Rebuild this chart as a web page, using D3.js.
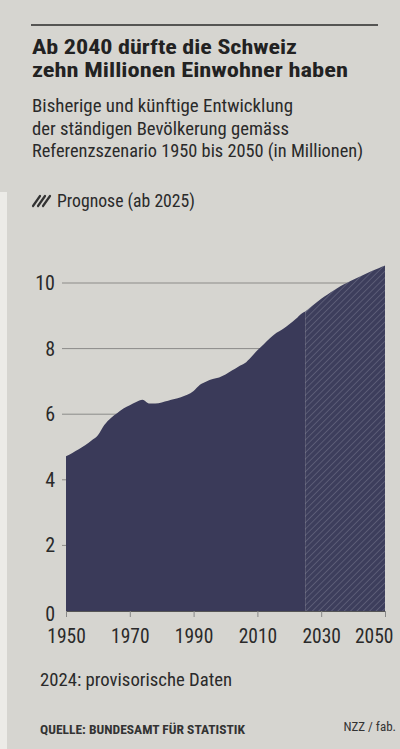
<!DOCTYPE html>
<html>
<head>
<meta charset="utf-8">
<script src="https://cdn.jsdelivr.net/npm/d3@7"></script>
<style>
  html, body { margin: 0; padding: 0; background: #d6d5d0; }
  svg { display: block; }
  text { font-family: "Liberation Sans Narrow", "Roboto Condensed", "Arial Narrow", "Liberation Sans", sans-serif; }
</style>
</head>
<body>
<svg id="chart" width="400" height="749"></svg>
<script>
// ---- Data (population in millions) ----
const historyYears = [1950,1952,1954,1956,1958,1960,1962,1964,1966,1968,1970,1972,1974,1976,1978,1980,1982,1984,1986,1988,1990,1992,1994,1996,1998,2000,2002,2004,2006,2008,2010,2012,2014,2016,2018,2020,2022,2024,2025];
const historyValues = [4.72,4.82,4.93,5.05,5.20,5.36,5.67,5.88,6.03,6.17,6.27,6.37,6.44,6.33,6.33,6.36,6.41,6.46,6.52,6.59,6.71,6.90,7.00,7.07,7.12,7.21,7.33,7.45,7.55,7.74,7.95,8.13,8.32,8.48,8.60,8.74,8.90,9.08,9.13];
const forecastYears = [2025,2026,2028,2030,2032,2034,2036,2038,2040,2042,2044,2046,2048,2050];
const forecastValues = [9.13,9.21,9.37,9.52,9.65,9.78,9.90,10.0,10.10,10.19,10.28,10.37,10.45,10.53];
const yTicks = [0,2,4,6,8,10];
const xTicks = [1950,1970,1990,2010,2030,2050];

const svg = d3.select("#chart");
const W = 400, H = 749;

// paper strip on the left
svg.append("rect").attr("x",0).attr("y",192).attr("width",7).attr("height",H-192).attr("fill","#ecebe7");

// top rule
svg.append("line").attr("x1",31).attr("x2",378).attr("y1",25).attr("y2",25)
  .attr("stroke","#2a2a2a").attr("stroke-width",1.6);

// title
const title = [["Ab 2040 dürfte die Schweiz",265],["zehn Millionen Einwohner haben",316]];
svg.selectAll("text.title").data(title).enter().append("text")
  .attr("class","title").attr("x",32).attr("y",(d,i)=>54+i*23)
  .attr("font-size",21).attr("font-weight","bold").attr("fill","#222")
  .attr("textLength",d=>d[1]).attr("lengthAdjust","spacingAndGlyphs")
  .text(d=>d[0]);

const sub = [["Bisherige und künftige Entwicklung",261],["der ständigen Bevölkerung gemäss",257],["Referenzszenario 1950 bis 2050 (in Millionen)",331]];
svg.selectAll("text.sub").data(sub).enter().append("text")
  .attr("class","sub").attr("x",32).attr("y",(d,i)=>112+i*22.5)
  .attr("font-size",17.5).attr("fill","#2a2a2a")
  .attr("textLength",d=>d[1]).attr("lengthAdjust","spacingAndGlyphs")
  .text(d=>d[0]);

// legend
const defs = svg.append("defs");
const pat = defs.append("pattern").attr("id","hatch").attr("patternUnits","userSpaceOnUse")
  .attr("width",4.5).attr("height",4.5).attr("patternTransform","rotate(45)");
pat.append("rect").attr("width",4.5).attr("height",4.5).attr("fill","#3d3e5c");
pat.append("line").attr("x1",0).attr("y1",0).attr("x2",0).attr("y2",4.5)
  .attr("stroke","#62637c").attr("stroke-width",1.5);

const lg = svg.append("g");
[0,5,10].forEach(o=>{
  lg.append("line").attr("x1",33+o).attr("y1",206).attr("x2",40+o).attr("y2",196)
    .attr("stroke","#333").attr("stroke-width",2.2).attr("stroke-linecap","round");
});
svg.append("text").attr("x",57).attr("y",207).attr("font-size",17.5).attr("fill","#2a2a2a")
  .attr("textLength",138).attr("lengthAdjust","spacingAndGlyphs")
  .text("Prognose (ab 2025)");

// scales
const x = d3.scaleLinear().domain([1950,2050]).range([66,385]);
const y = d3.scaleLinear().domain([0,10]).range([611,283]);

// gridlines
svg.append("g").selectAll("line").data(yTicks.filter(d=>d>0)).enter().append("line")
  .attr("x1",62).attr("x2",385).attr("y1",d=>y(d)).attr("y2",d=>y(d))
  .attr("stroke","#8c8b88").attr("stroke-width",1);

// y labels
svg.append("g").selectAll("text").data(yTicks).enter().append("text")
  .attr("x",55).attr("y",d=>d===0?y(d)+10:y(d)+7).attr("text-anchor","end")
  .attr("font-size",20).attr("fill","#2a2a2a").text(d=>d);

// areas
const area = d3.area().x(d=>x(d[0])).y0(y(0)).y1(d=>y(d[1])).curve(d3.curveMonotoneX);
svg.append("path").datum(historyYears.map((d,i)=>[d,historyValues[i]]))
  .attr("d",area).attr("fill","#3a3a59");
svg.append("path").datum(forecastYears.map((d,i)=>[d,forecastValues[i]]))
  .attr("d",area).attr("fill","url(#hatch)");

// x axis
const xAxis = d3.axisBottom(x).tickValues(xTicks).tickFormat(d3.format("d")).tickSize(6).tickPadding(12);
const gx = svg.append("g").attr("transform",`translate(0,${y(0)})`).call(xAxis);
gx.select(".domain").attr("stroke","#555").attr("stroke-width",1);
gx.selectAll(".tick line").attr("stroke","#888");
gx.selectAll("text").attr("font-size",19.5).attr("fill","#2a2a2a")
  .attr("font-family",'"Liberation Sans Narrow", "Roboto Condensed", sans-serif')
  .filter(d=>d===2050).attr("text-anchor","end").attr("dx",8);

// footnotes
svg.append("text").attr("x",40).attr("y",686).attr("font-size",18).attr("fill","#2a2a2a")
  .attr("textLength",192).attr("lengthAdjust","spacingAndGlyphs")
  .text("2024: provisorische Daten");
svg.append("text").attr("x",40).attr("y",734).attr("font-size",13.5).attr("font-weight","bold")
  .attr("fill","#333").attr("textLength",205).attr("lengthAdjust","spacingAndGlyphs")
  .text("QUELLE: BUNDESAMT FÜR STATISTIK");
svg.append("text").attr("x",396).attr("y",731).attr("text-anchor","end").attr("font-size",13)
  .attr("fill","#333").text("NZZ / fab.");
</script>
</body>
</html>
